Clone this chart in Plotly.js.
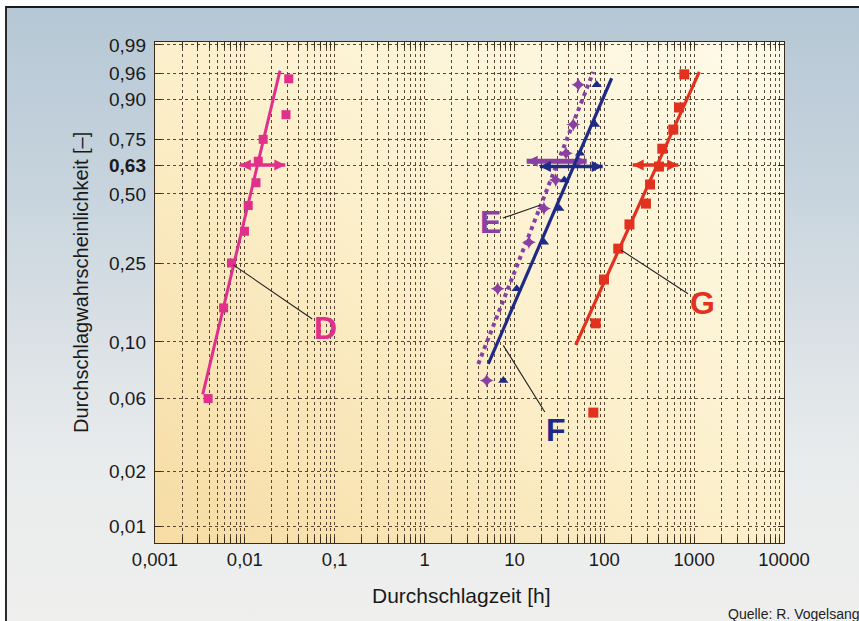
<!DOCTYPE html>
<html>
<head>
<meta charset="utf-8">
<script src="https://cdn.plot.ly/plotly-3.0.1.min.js"></script>
<style>
  html, body { margin: 0; padding: 0; background: #ffffff; }
  #wrap { position: relative; width: 859px; height: 621px; overflow: hidden; background: #ffffff; }
  #bg { position: absolute; left: 5px; top: 6px; width: 856px; height: 617px;
        border-left: 2px solid #2a2a2a; border-top: 2px solid #1a1a1a;
        background: linear-gradient(to bottom, #b6c7d5 0%, #c4d2dc 25%, #d8dfe4 50%, #e8ebec 72%, #efefee 100%); }
  #chart { position: absolute; left: 0; top: 0; width: 859px; height: 621px; }
</style>
</head>
<body>
<div id="wrap"><div id="bg"></div><div id="chart"></div></div>
<script>
// ---------- data ----------
// y tick positions (failure probability) and their printed labels
const tickProbs  = [0.01, 0.02, 0.05, 0.10, 0.25, 0.50, 0.632, 0.75, 0.90, 0.96, 0.99];
const tickLabels = ['0,01', '0,02', '0,06', '0,10', '0,25', '0,50', '<b>0,63</b>', '0,75', '0,90', '0,96', '0,99'];
const xTickVals  = [0.001, 0.01, 0.1, 1, 10, 100, 1000, 10000];
const xTickText  = ['0,001', '0,01', '0,1', '1', '10', '100', '1000', '10000'];
const xTitle = 'Durchschlagzeit [h]';
const yTitle = 'Durchschlagwahrscheinlichkeit [–]';
const sourceText = 'Quelle: R. Vogelsang';

// Series D
const dTime = [0.0039, 0.0058, 0.0071, 0.0099, 0.0109, 0.0133, 0.0141, 0.0160, 0.0287, 0.0308];
const dProb = [0.05, 0.15, 0.25, 0.35, 0.45, 0.55, 0.65, 0.75, 0.85, 0.95];
const dFitTime = [0.0034, 0.0246];
const dFitProb = [0.0527, 0.964];
const dCiTime = [0.0088, 0.0282];
const dCiProb = [0.632, 0.632];

// Series E
const eTime = [4.91, 6.51, 14.5, 21.3, 28.8, 37.5, 45.2, 51.4];
const eProb = [0.0625, 0.1875, 0.3125, 0.4375, 0.5625, 0.6875, 0.8125, 0.9375];
const eFitTime = [3.96, 75.5];
const eFitProb = [0.0766, 0.962];
const eCiTime = [13.7, 63.7];
const eCiProb = [0.65, 0.65];

// Series F
const fTime = [7.52, 10.6, 21.3, 31.6, 35.9, 53.7, 78.8, 82.3];
const fProb = [0.0625, 0.1875, 0.3125, 0.4375, 0.5625, 0.6875, 0.8125, 0.9375];
const fFitTime = [5.12, 120.8];
const fFitProb = [0.0766, 0.951];
const fCiTime = [19.2, 96];
const fCiProb = [0.625, 0.625];

// Series G
const gTime = [75.5, 80.2, 99.3, 143, 190.6, 291, 323, 406, 442, 586, 678, 777];
const gProb = [0.042, 0.125, 0.208, 0.292, 0.375, 0.458, 0.542, 0.625, 0.708, 0.792, 0.875, 0.958];
const gFitTime = [48.1, 1141];
const gFitProb = [0.0964, 0.962];
const gCiTime = [207, 666];
const gCiProb = [0.632, 0.632];

// label anchors on the curves
const labelNames = ['D', 'E', 'F', 'G'];
const labelTime  = [0.00743, 19.2, 7.52, 153.5];
const labelProb  = [0.245, 0.451, 0.096, 0.288];

// ---------- helpers ----------
const weib = p => Math.log(-Math.log(1 - p));
const W = arr => arr.map(weib);

const cD = '#e0308c', cE = '#8a40a2', cF = '#1f2a86', cG = '#e2321f';
const labelColors = [cD, cE, cF, cG];
const labelAx = [92, -49, 53, 81];
const labelAy = [63, 17, 85, 53];
const FONT = 'Liberation Sans, Arial, sans-serif';

function fit(x, p, color, dash, width) {
  return { x: x, y: W(p), mode: 'lines', type: 'scatter', hoverinfo: 'skip',
           line: { color: color, width: width, dash: dash || 'solid' }, showlegend: false };
}
function pts(x, p, color, symbol, size) {
  return { x: x, y: W(p), mode: 'markers', type: 'scatter', showlegend: false,
           marker: { color: color, symbol: symbol, size: size, line: { width: 0 } } };
}
function ci(x, p, color, w) {
  return { x: x, y: W(p), mode: 'lines+markers', type: 'scatter', showlegend: false,
           line: { color: color, width: w || 3.5 },
           marker: { color: color, symbol: ['arrow-left', 'arrow-right'], size: 11 } };
}

const traces = [
  fit(dFitTime, dFitProb, cD, 'solid', 3),
  pts(dTime, dProb, cD, 'square', 9),
  ci(dCiTime, dCiProb, cD),
  fit(eFitTime, eFitProb, cE, 'dot', 4),
  pts(eTime, eProb, cE, 'star-diamond', 10),
  ci(eCiTime, eCiProb, cE, 5),
  fit(fFitTime, fFitProb, cF, 'solid', 3.2),
  pts(fTime, fProb, cF, 'triangle-up', 9),
  ci(fCiTime, fCiProb, cF),
  fit(gFitTime, gFitProb, cG, 'solid', 3.2),
  pts(gTime, gProb, cG, 'square', 10),
  ci(gCiTime, gCiProb, cG)
];

const annotations = labelNames.map((n, i) => ({
  x: Math.log10(labelTime[i]), y: weib(labelProb[i]), xref: 'x', yref: 'y',
  text: '<b>' + n + '</b>', showarrow: true, arrowhead: 0, arrowwidth: 1.1, arrowcolor: '#222',
  ax: labelAx[i], ay: labelAy[i], standoff: 0, startstandoff: 0,
  font: { family: FONT, size: 32, color: labelColors[i] }
}));
annotations.push({
  xref: 'paper', yref: 'paper', x: 0.908, y: -0.142, xanchor: 'left', yanchor: 'middle',
  showarrow: false, text: sourceText,
  font: { family: FONT, size: 14, color: '#222' }
});
// axis titles (placed as in the reference, slightly off-centre)
annotations.push({
  xref: 'paper', yref: 'paper', x: 0.4865, y: -0.104, xanchor: 'center', yanchor: 'middle',
  showarrow: false, text: xTitle, font: { family: FONT, size: 21, color: '#1a1a1a' }
});
annotations.push({
  xref: 'paper', yref: 'paper', x: -0.1177, y: 0.521, xanchor: 'center', yanchor: 'middle',
  showarrow: false, text: yTitle, textangle: -90, font: { family: FONT, size: 20, color: '#1a1a1a' }
});

const svgBg = '<svg xmlns="http://www.w3.org/2000/svg" width="100" height="100" preserveAspectRatio="none">' +
  '<defs><linearGradient id="g" x1="1" y1="0" x2="0" y2="1">' +
  '<stop offset="0" stop-color="#fefbea"/><stop offset="0.5" stop-color="#fcf0cc"/>' +
  '<stop offset="1" stop-color="#f6dca4"/></linearGradient></defs>' +
  '<rect width="100" height="100" fill="url(#g)"/></svg>';

const gridCol = '#5a4632';
const layout = {
  width: 859, height: 621,
  margin: { l: 155, r: 75, t: 42, b: 78, pad: 0 },
  paper_bgcolor: 'rgba(0,0,0,0)',
  plot_bgcolor: 'rgba(0,0,0,0)',
  font: { family: FONT, color: '#1a1a1a' },
  showlegend: false,
  images: [{ source: 'data:image/svg+xml;charset=utf-8,' + encodeURIComponent(svgBg),
             xref: 'paper', yref: 'paper', x: 0, y: 1, sizex: 1, sizey: 1,
             sizing: 'stretch', xanchor: 'left', yanchor: 'top', layer: 'below' }],
  xaxis: {
    type: 'log', range: [-3, 4], tickvals: xTickVals, ticktext: xTickText,
    tickfont: { size: 18.5, color: '#1a1a1a' },
    ticks: 'inside', ticklen: 6, tickcolor: '#3a2c1c', tickwidth: 1, mirror: 'allticks',
    showline: true, linecolor: '#3a2c1c', linewidth: 1.2,
    showgrid: true, gridcolor: gridCol, griddash: 'dot', gridwidth: 1,
    minor: { dtick: 'D1', showgrid: true, gridcolor: gridCol, griddash: 'dot', gridwidth: 1,
             ticks: 'inside', ticklen: 6, tickcolor: '#3a2c1c' },
    zeroline: false
  },
  yaxis: {
    range: [-4.807, 1.565], tickvals: W(tickProbs), ticktext: tickLabels,
    tickfont: { size: 19, color: '#1a1a1a' },
    ticks: 'inside', ticklen: 6, tickcolor: '#3a2c1c', mirror: 'allticks',
    showline: true, linecolor: '#3a2c1c', linewidth: 1.2,
    showgrid: true, gridcolor: gridCol, griddash: 'dot', gridwidth: 1,
    zeroline: false, ticklabelstandoff: 4
  },
  annotations: annotations
};

Plotly.newPlot('chart', traces, layout, { staticPlot: true, displayModeBar: false });
</script>
</body>
</html>
